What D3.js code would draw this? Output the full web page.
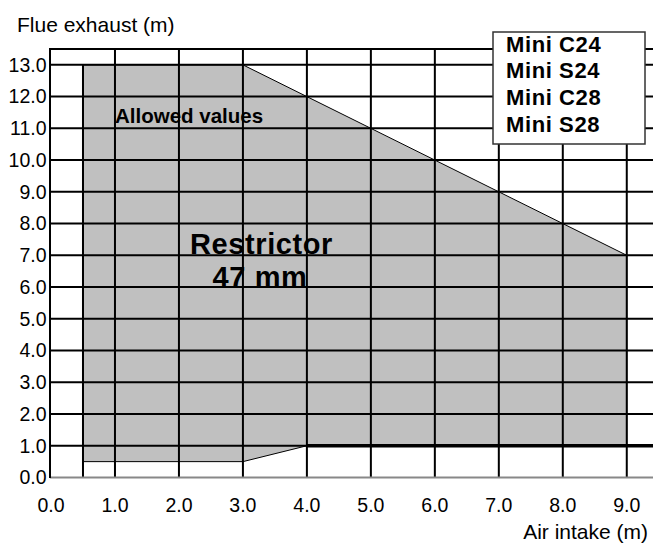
<!DOCTYPE html>
<html>
<head>
<meta charset="utf-8">
<script src="https://cdn.jsdelivr.net/npm/d3@7"></script>
<style>
  body { margin: 0; background: #fff; }
  text { font-family: "Liberation Sans", Arial, sans-serif; fill: #000; }
</style>
</head>
<body>
<div id="chart"></div>
<script>
// datos del grafico
var xTicks = [0, 1, 2, 3, 4, 5, 6, 7, 8, 9];
var yTicks = [0, 1, 2, 3, 4, 5, 6, 7, 8, 9, 10, 11, 12, 13];
// contorno de la zona permitida (aire, humos)
var zoneX = [0.5, 3, 9, 9, 4, 3, 0.5];
var zoneY = [13, 13, 7, 1, 1, 0.5, 0.5];
var models = ["Mini C24", "Mini S24", "Mini C28", "Mini S28"];
var limitY = 1;

var W = 653, H = 543;
var x = d3.scaleLinear().domain([0, 9.41]).range([51, 653]);
var y = d3.scaleLinear().domain([0, 13.5]).range([477.5, 49]);

var svg = d3.select("#chart").append("svg")
  .attr("width", W).attr("height", H);

// zona gris
var pts = zoneX.map(function(d, i) { return [x(d), y(zoneY[i])]; });
svg.append("polygon")
  .attr("points", pts.map(function(p) { return p.join(","); }).join(" "))
  .attr("fill", "#c0c0c0")
  .attr("stroke", "#000")
  .attr("stroke-width", 1);

// textos dentro
svg.append("text").attr("x", 115).attr("y", 122.5)
  .attr("font-size", 20.5).attr("font-weight", "bold").text("Allowed values");
svg.append("text").attr("x", 261.5).attr("y", 253.5).attr("text-anchor", "middle")
  .attr("font-size", 29).attr("font-weight", "bold").attr("letter-spacing", 0.6)
  .text("Restrictor");
svg.append("text").attr("x", 260).attr("y", 286.5).attr("text-anchor", "middle")
  .attr("font-size", 29).attr("font-weight", "bold").attr("letter-spacing", 0.6)
  .text("47 mm");

// rejilla
svg.selectAll(".hg").data(yTicks.filter(function(d) { return d > 0; }))
  .enter().append("line")
  .attr("x1", 50).attr("x2", W)
  .attr("y1", function(d) { return y(d); }).attr("y2", function(d) { return y(d); })
  .attr("stroke", "#000").attr("stroke-width", 2);
svg.selectAll(".vg").data(xTicks.filter(function(d) { return d > 0; }))
  .enter().append("line")
  .attr("y1", 477).attr("y2", 49)
  .attr("x1", function(d) { return x(d); }).attr("x2", function(d) { return x(d); })
  .attr("stroke", "#000").attr("stroke-width", 2);
// borde izquierdo de la zona
svg.append("line")
  .attr("x1", x(zoneX[0])).attr("x2", x(zoneX[0]))
  .attr("y1", y(0)).attr("y2", y(zoneY[0]))
  .attr("stroke", "#000").attr("stroke-width", 2);
// borde superior
svg.append("line").attr("x1", 50).attr("x2", W).attr("y1", 49).attr("y2", 49)
  .attr("stroke", "#000").attr("stroke-width", 2);
// limite inferior grueso
svg.append("line").attr("x1", x(4)).attr("x2", W)
  .attr("y1", y(limitY)).attr("y2", y(limitY))
  .attr("stroke", "#000").attr("stroke-width", 3.5);
// ejes
svg.append("line").attr("x1", 50).attr("x2", W).attr("y1", 477.5).attr("y2", 477.5)
  .attr("stroke", "#888").attr("stroke-width", 2);
svg.append("line").attr("x1", 50).attr("x2", 50).attr("y1", 48).attr("y2", 478)
  .attr("stroke", "#000").attr("stroke-width", 2);

// etiquetas de ejes
svg.selectAll(".yl").data(yTicks).enter().append("text")
  .attr("x", 46.5).attr("y", function(d) { return y(d) + 6.8; })
  .attr("text-anchor", "end").attr("font-size", 19.5)
  .text(function(d) { return d3.format(".1f")(d); });
svg.selectAll(".xl").data(xTicks).enter().append("text")
  .attr("x", function(d) { return x(d); }).attr("y", 511.5)
  .attr("text-anchor", "middle").attr("font-size", 19.5)
  .text(function(d) { return d3.format(".1f")(d); });
svg.append("text").attr("x", 648).attr("y", 538.5).attr("text-anchor", "end")
  .attr("font-size", 21).text("Air intake (m)");
svg.append("text").attr("x", 17).attr("y", 32)
  .attr("font-size", 21).text("Flue exhaust (m)");

// leyenda de modelos
svg.append("rect").attr("x", 493).attr("y", 32).attr("width", 152).attr("height", 112)
  .attr("fill", "#fff").attr("stroke", "#333").attr("stroke-width", 1.5);
svg.selectAll(".lg").data(models).enter().append("text")
  .attr("x", 506).attr("y", function(d, i) { return 51.7 + i * 26.6; })
  .attr("font-size", 22).attr("font-weight", "bold").attr("letter-spacing", 0.6)
  .text(function(d) { return d; });
</script>
</body>
</html>
